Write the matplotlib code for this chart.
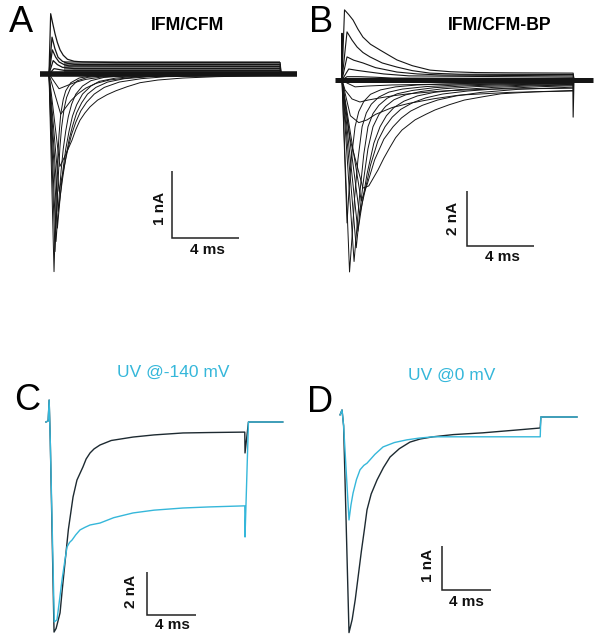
import matplotlib
matplotlib.use("Agg")
import matplotlib.pyplot as plt

plt.rcParams['font.family'] = ['Liberation Sans', 'DejaVu Sans']

W, H = 601, 640
fig = plt.figure(figsize=(W / 100, H / 100), dpi=100)

# ---------------- data (time in ms, current in nA) ----------------
# Panel A: IFM/CFM family
A_in_t = [
    [0, 0.3, 0.4, 0.5, 0.6, 0.7, 0.85, 1.0, 1.3, 1.8, 2.5, 13.8],
    [0, 0.36, 0.45, 0.55, 0.65, 0.75, 0.9, 1.05, 1.3, 1.7, 2.3, 3.2, 13.8],
    [0, 0.42, 0.6, 0.72, 0.85, 1.0, 1.15, 1.35, 1.6, 2.0, 2.5, 3.3, 4.5, 13.8],
    [0, 0.5, 0.7, 0.85, 1.0, 1.2, 1.4, 1.65, 2.0, 2.5, 3.0, 4, 5.5, 13.8],
    [0, 0.55, 0.8, 1.0, 1.2, 1.4, 1.65, 1.95, 2.3, 2.8, 3.5, 4.5, 6, 13.8],
    [0, 0.6, 0.85, 1.1, 1.35, 1.6, 1.9, 2.25, 2.7, 3.3, 4.2, 5.5, 7, 13.8],
    [0, 0.65, 1.0, 1.37, 1.6, 1.85, 2.15, 2.45, 2.9, 3.46, 4.0, 4.66, 5.43, 6.5,
     8, 10, 13.8],
    [0, 0.7, 1.0, 1.3, 1.7, 2.2, 2.8, 3.6, 5, 7, 13.8],
    [0, 0.6, 1.0, 1.5, 2.2, 3, 4.5, 13.8],
]
A_in_i = [
    [0, -2.95, -2.05, -1.35, -0.9, -0.6, -0.38, -0.25, -0.13, -0.06, -0.03, 0],
    [0, -2.65, -2.1, -1.55, -1.1, -0.8, -0.52, -0.35, -0.2, -0.1, -0.05, -0.03, 0],
    [0, -2.5, -1.85, -1.45, -1.12, -0.85, -0.64, -0.45, -0.3, -0.18, -0.1, -0.05,
     -0.03, 0],
    [0, -2.3, -1.75, -1.4, -1.12, -0.85, -0.63, -0.46, -0.3, -0.18, -0.11, -0.06,
     -0.03, 0],
    [0, -2.05, -1.58, -1.25, -0.98, -0.78, -0.58, -0.43, -0.3, -0.2, -0.12, -0.07,
     -0.04, 0],
    [0, -1.75, -1.45, -1.15, -0.9, -0.72, -0.55, -0.42, -0.3, -0.2, -0.12, -0.07,
     -0.04, -0.01],
    [0, -1.38, -1.2, -0.99, -0.83, -0.69, -0.58, -0.49, -0.39, -0.31, -0.25, -0.19,
     -0.13, -0.09, -0.06, -0.04, -0.02],
    [0, -0.6, -0.5, -0.4, -0.3, -0.21, -0.14, -0.09, -0.05, -0.02, 0],
    [0, -0.22, -0.18, -0.13, -0.08, -0.05, -0.02, 0],
]
A_out_t = [
    [0, 0.1, 0.2, 0.36, 0.5, 0.66, 0.85, 1.1, 1.5, 2, 4, 13.8, 13.85],
    [0, 0.18, 0.35, 0.54, 0.8, 1.1, 1.5, 2, 13.8, 13.85],
    [0, 0.2, 0.4, 0.6, 0.9, 1.2, 13.8, 13.85],
    [0, 0.25, 0.5, 0.8, 1.5, 13.8, 13.85],
    [0, 0.3, 1.0, 13.8, 13.85],
]
A_out_i = [
    [0, 0.9, 0.78, 0.6, 0.47, 0.36, 0.28, 0.22, 0.19, 0.18, 0.17, 0.17, 0],
    [0, 0.55, 0.38, 0.25, 0.19, 0.16, 0.145, 0.14, 0.14, 0],
    [0, 0.36, 0.25, 0.18, 0.14, 0.12, 0.11, 0],
    [0, 0.2, 0.14, 0.1, 0.08, 0.08, 0],
    [0, 0.08, 0.05, 0.05, 0],
]
A_band_t = [0.9, 13.8]
A_band_lo = [-0.03, -0.03]
A_band_hi = [0.19, 0.19]
A_base_t = [-0.55, 14.8]
A_base_i = [0, 0]

# Panel B: IFM/CFM-BP family
B_in_t = [
    [0, 0.3, 0.42, 0.55, 0.78, 1.0, 1.3, 1.7, 2.3, 3.2, 4.5, 7, 10, 13.8],
    [0, 0.45, 0.6, 0.75, 0.95, 1.2, 1.45, 1.75, 2.2, 2.8, 3.6, 5, 7, 10, 13.8],
    [0, 0.72, 0.9, 1.05, 1.3, 1.55, 1.85, 2.2, 2.7, 3.3, 4.2, 5.5, 7.5, 10, 13.8],
    [0, 0.85, 1.05, 1.25, 1.55, 1.85, 2.2, 2.6, 3.1, 3.8, 4.7, 6, 8, 11, 13.8],
    [0, 0.95, 1.2, 1.5, 1.9, 2.27, 2.65, 3.1, 3.7, 4.5, 5.5, 7, 9, 11.5, 13.8],
    [0, 1.05, 1.35, 1.7, 2.15, 2.57, 3.0, 3.5, 4.2, 5.0, 6.0, 7.5, 9.5, 12, 13.8],
    [0, 1.15, 1.5, 1.95, 2.5, 3.05, 3.55, 4.1, 4.8, 5.7, 6.8, 8.3, 10.5, 13.8],
    [0, 0.5, 1.25, 1.6, 2.15, 2.5, 2.87, 3.2, 3.58, 4.36, 5.0, 5.55, 6.4, 7.3, 8.5,
     9.5, 11.5, 13.8],
    [0, 0.5, 1.0, 1.5, 2, 3, 4, 5.5, 7, 10, 13.8],
    [0, 0.18, 0.6, 1.07, 1.55, 2.0, 2.57, 3.2, 4, 5, 6, 7.5, 9, 13.8],
    [0, 0.3, 0.78, 1.5, 3, 6, 13.8],
]
B_in_i = [
    [0, -5.2, -4.0, -2.9, -1.7, -1.15, -0.78, -0.52, -0.36, -0.25, -0.18, -0.13,
     -0.11, -0.1],
    [0, -6.98, -5.7, -4.3, -2.9, -1.7, -1.2, -0.88, -0.62, -0.44, -0.33, -0.24,
     -0.18, -0.14, -0.12],
    [0, -6.6, -5.3, -4.2, -2.7, -1.7, -1.22, -0.92, -0.66, -0.5, -0.38, -0.28,
     -0.21, -0.17, -0.14],
    [0, -6.1, -4.9, -3.8, -2.5, -1.7, -1.26, -0.96, -0.72, -0.54, -0.42, -0.32,
     -0.24, -0.19, -0.16],
    [0, -5.5, -4.5, -3.4, -2.3, -1.7, -1.3, -1.0, -0.77, -0.58, -0.45, -0.35,
     -0.27, -0.21, -0.18],
    [0, -4.9, -4.1, -3.1, -2.2, -1.7, -1.35, -1.07, -0.83, -0.65, -0.51, -0.4,
     -0.31, -0.24, -0.21],
    [0, -4.4, -3.8, -2.9, -2.15, -1.7, -1.38, -1.13, -0.92, -0.73, -0.58, -0.45,
     -0.34, -0.26],
    [0, -2.2, -3.93, -3.85, -3.27, -2.84, -2.44, -2.1, -1.82, -1.45, -1.25, -1.09,
     -0.9, -0.73, -0.6, -0.5, -0.43, -0.38],
    [0, -1.3, -1.55, -1.45, -1.25, -1.0, -0.85, -0.68, -0.55, -0.45, -0.4],
    [0, -0.36, -0.69, -0.8, -0.73, -0.68, -0.62, -0.56, -0.5, -0.45, -0.4, -0.36,
     -0.33, -0.3],
    [0, -0.11, -0.25, -0.22, -0.18, -0.15, -0.12],
]
B_out_t = [
    [0, 0.15, 0.4, 0.66, 0.95, 1.25, 1.7, 2.27, 2.8, 3.28, 4.2, 5.25, 6.5, 8, 10,
     13.8, 13.85],
    [0, 0.3, 0.6, 0.9, 1.25, 1.67, 2.4, 3.28, 4.2, 5.25, 7, 13.8, 13.85],
    [0, 0.3, 0.7, 1.25, 2.0, 3.28, 4.5, 6, 13.8, 13.85],
    [0, 0.4, 0.9, 1.5, 2.5, 4, 13.8, 13.85],
    [0, 0.3, 1, 2, 3, 13.8, 13.85],
]
B_out_i = [
    [0, 2.55, 2.38, 2.18, 1.85, 1.56, 1.3, 1.09, 0.9, 0.73, 0.52, 0.36, 0.3, 0.27,
     0.26, 0.25, 0],
    [0, 1.75, 1.45, 1.2, 1.0, 0.84, 0.62, 0.47, 0.34, 0.25, 0.21, 0.2, 0],
    [0, 0.84, 0.72, 0.62, 0.45, 0.29, 0.22, 0.18, 0.15, 0],
    [0, 0.4, 0.35, 0.3, 0.22, 0.15, 0.1, 0],
    [0, 0.12, 0.12, 0.1, 0.07, 0.05, 0],
]
B_base_t = [-0.42, 15.0]
B_base_i = [0, 0]
B_art_t = [[-0.02, 0, 0.02], [13.78, 13.8, 13.85]]
B_art_i = [[0, 1.7, 0], [0, -1.35, 0]]

# Panel C: UV @-140 mV (control black, UV cyan)
C_ctrl_t = [-0.33, -0.15, -0.07, 0.02, 0.33, 0.5, 0.82, 1.0, 1.22, 1.5, 1.88, 2.2,
            2.69, 2.95, 3.27, 3.6, 4.08, 5, 6.78, 8.5, 10.86, 13, 15.9, 15.92,
            16.2, 19.0]
C_ctrl_i = [0, 0.05, 1.02, -0.8, -9.77, -9.6, -8.88, -7.8, -6.56, -5.0, -3.49,
            -2.7, -2.09, -1.72, -1.44, -1.25, -1.07, -0.86, -0.7, -0.6, -0.51,
            -0.49, -0.47, -1.44, 0, 0]
C_uv_t = [-0.33, -0.15, -0.07, 0.02, 0.35, 0.57, 0.75, 0.98, 1.2, 1.39, 1.6, 1.8,
          2.1, 2.45, 2.85, 3.27, 4.08, 5.2, 6.78, 8.5, 10.86, 13, 15.9, 15.92,
          16.2, 19.0]
C_uv_i = [0, 0.05, 1.02, -0.8, -9.3, -9.2, -8.4, -7.35, -6.5, -5.81, -5.6, -5.49,
          -5.25, -5.02, -4.9, -4.79, -4.7, -4.45, -4.23, -4.1, -4.0, -3.95, -3.9,
          -5.35, 0, 0]

# Panel D: UV @0 mV
D_ctrl_t = [-0.24, -0.08, 0.05, 0.49, 0.75, 1.0, 1.25, 1.5, 1.75, 1.96, 2.3, 2.78,
            3.3, 3.84, 4.6, 5.47, 6.3, 7.35, 9, 11.4, 14, 16.1, 16.15, 19.1]
D_ctrl_i = [0.05, 0.16, -0.2, -4.9, -4.6, -4.15, -3.6, -3.05, -2.55, -2.11, -1.75,
            -1.43, -1.15, -0.91, -0.72, -0.57, -0.5, -0.45, -0.4, -0.36, -0.3,
            -0.25, 0, 0]
D_uv_t = [-0.24, -0.08, 0.05, 0.49, 0.65, 0.82, 1.1, 1.39, 1.7, 1.96, 2.6, 3.27,
          4.2, 5.2, 6.2, 7.35, 11.4, 16.1, 16.15, 19.1]
D_uv_i = [0.05, 0.16, -0.2, -2.34, -2.0, -1.73, -1.42, -1.2, -1.1, -1.05, -0.85,
          -0.68, -0.58, -0.52, -0.48, -0.45, -0.45, -0.45, 0, 0]

# ---------------- layout ----------------
TRACE = '#151515'
DARK = '#1d2a31'
CYAN = '#35b7da'


def panel(x0, y0, sx, sy, name):
    ax = fig.add_axes([0, 0, 1, 1], label=name)
    ax.set_xlim(-x0 / sx, (W - x0) / sx)
    ax.set_ylim(-(H - y0) / sy, y0 / sy)
    ax.axis('off')
    ax.patch.set_alpha(0)
    return ax


def ftext(x, y, s, **kw):
    fig.text(x / W, 1 - y / H, s, ha='center', va='center', **kw)


def scalebar(ax, t0, i0, dt, di, col='#222222'):
    ax.plot([t0, t0, t0 + dt], [i0 + di, i0, i0], color=col, lw=1.1,
            solid_capstyle='butt', solid_joinstyle='miter')


# Panel A
axA = panel(49, 74, 16.75, 67, 'A')
axA.fill_between(A_band_t, A_band_lo, A_band_hi, color='#7a7a7a', lw=0)
axA.plot(A_base_t, A_base_i, color=TRACE, lw=4.0, solid_capstyle='butt')
for t, i in zip(A_out_t, A_out_i):
    axA.plot(t, i, color=TRACE, lw=0.9)
for t, i in zip(A_in_t, A_in_i):
    axA.plot(t, i, color=TRACE, lw=0.7)
scalebar(axA, 7.34, -2.45, 4, 1)

# Panel B
axB = panel(342, 80, 16.75, 27.5, 'B')
axB.plot(B_base_t, B_base_i, color=TRACE, lw=3.6, solid_capstyle='butt')
for t, i in zip(B_art_t, B_art_i):
    axB.plot(t, i, color=TRACE, lw=0.8)
for t, i in zip(B_out_t, B_out_i):
    axB.plot(t, i, color=TRACE, lw=0.8)
for t, i in zip(B_in_t, B_in_i):
    axB.plot(t, i, color=TRACE, lw=0.7)
scalebar(axB, 7.46, -6.04, 4, 2)

# Panel C
axC = panel(50, 422, 12.25, 21.5, 'C')
axC.plot(C_ctrl_t, C_ctrl_i, color=DARK, lw=1.0)
axC.plot(C_uv_t, C_uv_i, color=CYAN, lw=1.0)
scalebar(axC, 7.92, -8.98, 4, 2)

# Panel D
axD = panel(343, 417, 12.25, 44, 'D')
axD.plot(D_ctrl_t, D_ctrl_i, color=DARK, lw=1.0)
axD.plot(D_uv_t, D_uv_i, color=CYAN, lw=1.0)
scalebar(axD, 8.08, -3.93, 4, 1)

# Text
for s, x, y in [('A', 21, 23), ('B', 321, 23), ('C', 27, 400), ('D', 320, 402)]:
    ftext(x, y, s, fontsize=26, color='black')
ftext(188, 25, 'IFM/CFM', fontsize=12.7, fontweight='bold')
ftext(500, 26, 'IFM/CFM-BP', fontsize=12.7, fontweight='bold')
ftext(173, 372, 'UV @-140 mV', fontsize=12.5, color=CYAN)
ftext(452, 375, 'UV @0 mV', fontsize=12.5, color=CYAN)

sb_bold = dict(fontsize=11, fontweight='bold', color='#111111')
ftext(160, 208, '1 nA', rotation=90, **sb_bold)
ftext(207, 250, '4 ms', **sb_bold)
ftext(453, 218, '2 nA', rotation=90, **sb_bold)
ftext(502, 257, '4 ms', **sb_bold)
ftext(131, 591, '2 nA', rotation=90, **sb_bold)
ftext(172, 625, '4 ms', **sb_bold)
ftext(428, 565, '1 nA', rotation=90, **sb_bold)
ftext(466, 602, '4 ms', **sb_bold)

fig.savefig('out.png', dpi=100)
